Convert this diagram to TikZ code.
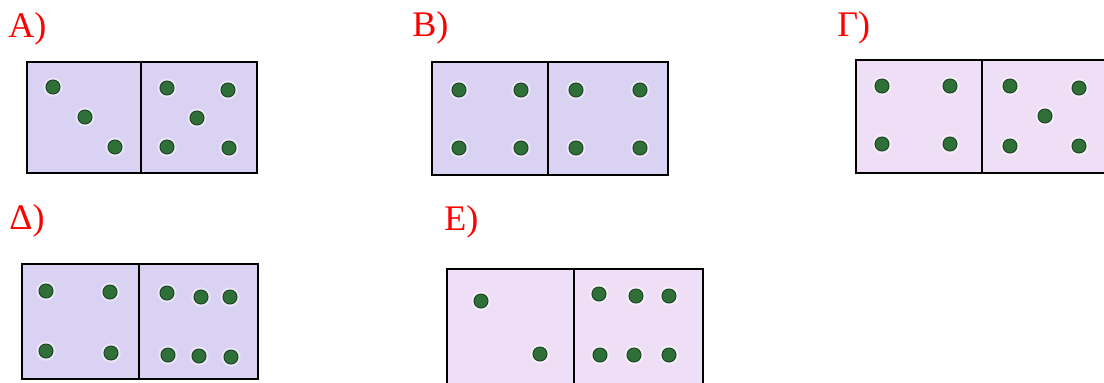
\documentclass[tikz,border=0pt]{standalone}
\usepackage{fontspec}
\setmainfont{Liberation Serif}
\definecolor{lilac}{HTML}{DAD2F2}
\definecolor{pinklilac}{HTML}{EEDFF6}
\definecolor{pipgreen}{HTML}{2F7039}
\definecolor{pipdark}{HTML}{1D4526}
\begin{document}
\begin{tikzpicture}[
	x=0.5pt,y=-0.5pt,
	tile/.style={draw=black,line width=1.4pt},
	halo/.style={fill=white,opacity=0.45},
	pip/.style={fill=pipgreen,draw=pipdark,line width=0.5pt},
	lbl/.style={red,anchor=base west,inner sep=0pt,font=\fontsize{18}{21}\selectfont}
]
\useasboundingbox (0,0) rectangle (1104,382);
%\draw[step=50,black!10] (0,0) grid (1104,382);

% labels
\node[lbl] (la) at (8,37) {A)};
\node[lbl] (lb) at (412,36) {B)};
\node[lbl] (lg) at (837,36) {Γ)};
\node[lbl] (ld) at (9,229) {Δ)};
\node[lbl] (le) at (444,230) {Ε)};

% tiles
\fill[lilac] (27,62) rectangle (257,173);
\fill[lilac] (432,62) rectangle (668,175);
\fill[pinklilac] (856,60) rectangle (1110,173);
\fill[lilac] (22,264) rectangle (258,379);
\fill[pinklilac] (447,269) rectangle (703,390);

% pips
\foreach \p in {(53,87),(85,117),(115,147),(167,88),(228,90),(197,118),(167,147),(229,148),
	(459,90),(521,90),(459,148),(521,148),(576,90),(640,90),(576,148),(640,148),
	(882,86),(950,86),(882,144),(950,144),(1010,86),(1079,88),(1045,116),(1010,146),(1079,146),
	(46,291),(110,292),(46,351),(111,353),(167,293),(201,297),(230,297),(168,355),(199,356),(231,357),
	(481,301),(540,354),(599,294),(636,296),(669,296),(600,355),(634,355),(669,355)}{
	\fill[halo] \p circle(4.8pt);
	\filldraw[pip] \p circle(3.5pt);
}

\draw[tile] (27,62) rectangle (257,173) (141,62)--(141,173);
\draw[tile] (432,62) rectangle (668,175) (548,62)--(548,175);
\draw[tile] (856,60) rectangle (1110,173) (982,60)--(982,173);
\draw[tile] (22,264) rectangle (258,379) (139,264)--(139,379);
\draw[tile] (447,269) rectangle (703,390) (574,269)--(574,390);
\end{tikzpicture}
\end{document}
